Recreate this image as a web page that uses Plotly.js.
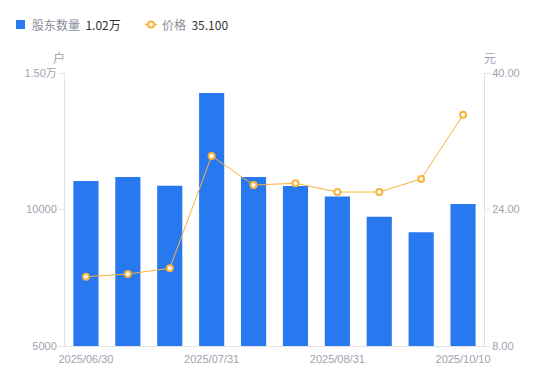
<!DOCTYPE html>
<html><head><meta charset="utf-8">
<script src="https://cdn.plot.ly/plotly-3.0.1.min.js"></script>
<style>html,body{margin:0;padding:0;background:#fff}#c{width:550px;height:381px}</style>
</head><body><div id="c"></div>
<script>
const categories = ['2025/06/30','2025/07/10','2025/07/20','2025/07/31','2025/08/10','2025/08/20','2025/08/31','2025/09/10','2025/09/20','2025/10/10'];
const holders = [11040, 11190, 10870, 14270, 11190, 10860, 10480, 9730, 9170, 10200];
const prices = [16.12, 16.44, 17.10, 30.27, 26.87, 27.07, 26.05, 26.05, 27.58, 35.10];
const xTickVals = ['2025/06/30','2025/07/31','2025/08/31','2025/10/10'];
const yLeftVals = [5000, 10000, 15000];
const yLeftText = ['5000', '10000', '1.50万'];
const yRightVals = [8, 24, 40];
const yRightText = ['8.00', '24.00', '40.00'];
const legendHolders = '1.02万';
const legendPrice = '35.100';

const blue = '#2878f0', orange = '#f9b23c', tickc = '#9ea2b0', axc = '#e3e3e6';
const FONT = '"Liberation Sans", Arial, "Noto Sans CJK SC", sans-serif';

const traces = [
  {type:'bar', x:categories, y:holders, yaxis:'y', marker:{color:blue}, width:0.6, hoverinfo:'skip'},
  {type:'scatter', mode:'lines+markers', x:categories, y:prices, yaxis:'y2',
   line:{color:orange, width:1}, marker:{symbol:'circle', size:6, color:'#fff', line:{color:orange, width:2}}, hoverinfo:'skip'}
];

function px(x){return (x-65)/419;}
function py(y){return (346-y)/273;}

const layout = {
  width:550, height:381, margin:{l:65, r:66, t:73, b:35},
  paper_bgcolor:'#fff', plot_bgcolor:'#fff', showlegend:false,
  font:{family:FONT, size:11, color:tickc},
  xaxis:{type:'category', tickmode:'array', tickvals:xTickVals, ticktext:xTickVals,
    showgrid:false, showline:true, linecolor:axc, linewidth:1, ticks:'', ticklabelstandoff:3,
    zeroline:false, tickfont:{size:11, color:tickc}, range:[-0.5, 9.5]},
  yaxis:{range:[5000,15000], tickmode:'array', tickvals:yLeftVals, ticktext:yLeftText,
    showgrid:false, showline:true, linecolor:axc, linewidth:1, ticks:'outside', ticklen:5, tickcolor:axc,
    zeroline:false, tickfont:{size:11, color:tickc}},
  yaxis2:{range:[8,40], overlaying:'y', side:'right', tickmode:'array', tickvals:yRightVals, ticktext:yRightText,
    showgrid:false, showline:true, linecolor:axc, linewidth:1, ticks:'outside', ticklen:5, tickcolor:axc,
    zeroline:false, tickfont:{size:11, color:tickc}},
  shapes:[
    {type:'rect', xref:'paper', yref:'paper', x0:px(16), x1:px(25), y0:py(29), y1:py(20), fillcolor:blue, line:{width:0}},
    {type:'line', xref:'paper', yref:'paper', x0:px(145), x1:px(157), y0:py(24.5), y1:py(24.5), line:{color:orange, width:1.5}},
    {type:'circle', xref:'paper', yref:'paper', x0:px(148), x1:px(154), y0:py(27.5), y1:py(21.5), fillcolor:'#fff', line:{color:orange, width:2}}
  ],
  annotations:[
    {xref:'paper', yref:'paper', x:px(59), y:py(57), xanchor:'center', yanchor:'middle', showarrow:false,
     text:'户', font:{size:12, color:tickc, family:'"Noto Sans CJK SC", sans-serif'}},
    {xref:'paper', yref:'paper', x:px(490), y:py(57), xanchor:'center', yanchor:'middle', showarrow:false,
     text:'元', font:{size:12, color:tickc, family:'"Noto Sans CJK SC", sans-serif'}},
    {xref:'paper', yref:'paper', x:px(30), y:py(24.5), xanchor:'left', yanchor:'middle', showarrow:false,
     text:'<span style="color:#8a8d99">股东数量</span>  <span style="color:#333">'+legendHolders+'</span>',
     font:{size:12, family:'"Noto Sans CJK SC", sans-serif'}},
    {xref:'paper', yref:'paper', x:px(160), y:py(24.5), xanchor:'left', yanchor:'middle', showarrow:false,
     text:'<span style="color:#8a8d99">价格</span>  <span style="color:#333">'+legendPrice+'</span>',
     font:{size:12, family:'"Noto Sans CJK SC", sans-serif'}}
  ]
};

Plotly.newPlot('c', traces, layout, {displayModeBar:false, staticPlot:true});
</script></body></html>
